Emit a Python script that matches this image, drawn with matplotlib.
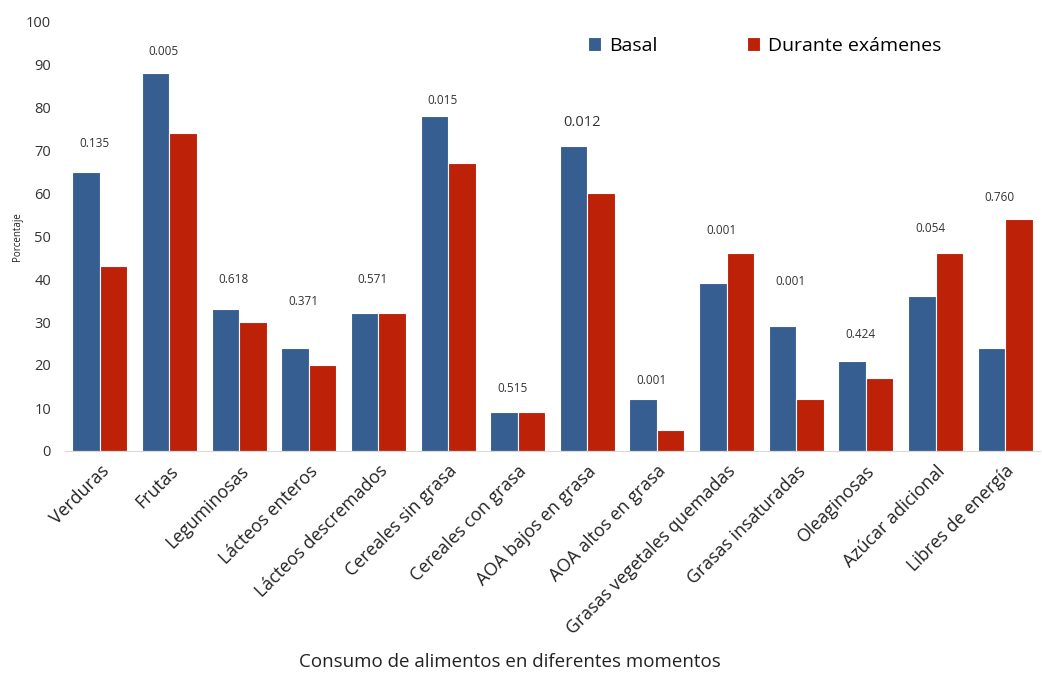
import matplotlib
matplotlib.use("Agg")
import matplotlib.pyplot as plt
import numpy as np

categories = ["Verduras", "Frutas", "Leguminosas", "Lácteos enteros",
              "Lácteos descremados", "Cereales sin grasa", "Cereales con grasa",
              "AOA bajos en grasa", "AOA altos en grasa",
              "Grasas vegetales quemadas", "Grasas insaturadas", "Oleaginosas",
              "Azúcar adicional", "Libres de energía"]
basal = [65, 88, 33, 24, 32, 78, 9, 71, 12, 39, 29, 21, 36, 24]
examenes = [43, 74, 30, 20, 32, 67, 9, 60, 5, 46, 12, 17, 46, 54]
p_values = ["0.135", "0.005", "0.618", "0.371", "0.571", "0.015", "0.515",
            "0.012", "0.001", "0.001", "0.001", "0.424", "0.054", "0.760"]
# height where each p-value label sits (percent scale)
p_label_y = [71.5, 92.8, 40, 34.7, 39.8, 81.6, 14.6, 76.3, 16.3, 51.2,
             39.5, 27, 51.8, 59]

plt.rcParams['font.family'] = ['Open Sans', 'DejaVu Sans']

fig = plt.figure(figsize=(10.42, 6.73), dpi=100)
ax = fig.add_axes([65 / 1042, 222 / 673, 975 / 1042, 430 / 673])

x = np.arange(len(categories))
w = 0.395
ax.bar(x - w / 2, basal, w, color="#375E91", edgecolor="white", linewidth=0.8, label="Basal")
ax.bar(x + w / 2, examenes, w, color="#BD2107", edgecolor="white", linewidth=0.8,
       label="Durante exámenes")

for i, (txt, yy) in enumerate(zip(p_values, p_label_y)):
    size = 10.5 if txt == "0.012" else 8.5
    ax.text(x[i] - 0.08, yy, txt, ha="center", va="center", fontsize=size, color="#333333")

ax.set_xlim(-0.5, len(categories) - 0.5)
ax.set_ylim(0, 100)
ax.set_yticks(range(0, 101, 10))
ax.set_xticks(x)
ax.set_xticklabels(categories, rotation=45, ha="right", rotation_mode="anchor",
                   fontsize=12.8, color="#222222")
ax.tick_params(axis="x", length=0, pad=8)
ax.tick_params(axis="y", length=0, labelsize=10.5, labelcolor="#333333", pad=10)
for s in ["top", "right", "left"]:
    ax.spines[s].set_visible(False)
ax.spines["bottom"].set_color("#D9D9D9")

fig.text(18 / 1042, 1 - 237 / 673, "Porcentaje", rotation=90, ha="center", va="center",
         fontsize=7, color="#222222")
fig.text(510 / 1042, 1 - 662 / 673, "Consumo de alimentos en diferentes momentos",
         ha="center", va="center", fontsize=13.5, color="#222222")

fig.legend(loc="center left", bbox_to_anchor=(570 / 1042, 1 - 46 / 673), ncol=2,
           frameon=False, fontsize=14, handlelength=0.7, handleheight=0.7,
           handletextpad=0.4, columnspacing=4.6)

fig.savefig("out.png", dpi=100)
